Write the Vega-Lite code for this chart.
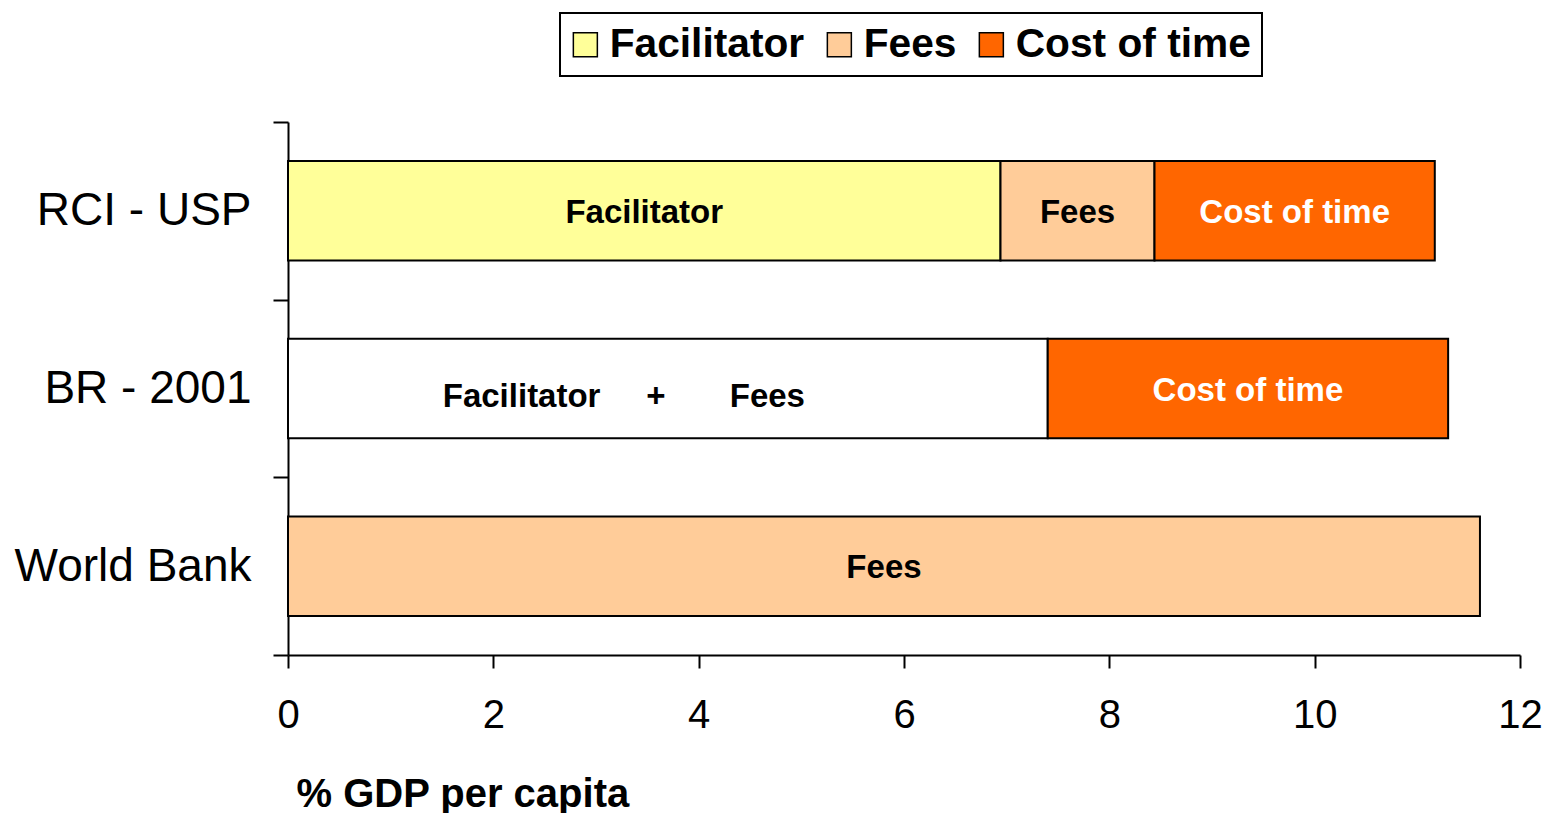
{
  "$schema": "https://vega.github.io/schema/vega-lite/v6.json",
  "width": 1232,
  "height": 533,
  "autosize": {"type": "none"},
  "padding": {"left": 288, "top": 122, "right": 27, "bottom": 158},
  "background": "white",
  "config": {"view": {"stroke": null}, "font": "Liberation Sans", "legend": {"strokeWidth": 2}},
  "data": {
    "values": [
      {"source": "RCI - USP", "segment": "Facilitator", "value": 6.94, "seq": 1},
      {"source": "RCI - USP", "segment": "Fees", "value": 1.5, "seq": 2},
      {"source": "RCI - USP", "segment": "Cost of time", "value": 2.73, "seq": 3},
      {"source": "BR - 2001", "segment": "Facilitator + Fees", "value": 7.4, "seq": 1},
      {"source": "BR - 2001", "segment": "Cost of time", "value": 3.9, "seq": 3},
      {"source": "World Bank", "segment": "Fees", "value": 11.61, "seq": 2}
    ]
  },
  "encoding": {
    "y": {
      "field": "source",
      "type": "nominal",
      "sort": ["RCI - USP", "BR - 2001", "World Bank"],
      "scale": {"paddingInner": 0, "paddingOuter": 0},
      "axis": {
        "title": null,
        "tickBand": "extent",
        "labelFontSize": 46,
        "labelColor": "black",
        "labelPadding": 22,
        "labelLimit": 0,
        "tickSize": 15,
        "tickWidth": 2,
        "tickColor": "black",
        "domainColor": "black",
        "domainWidth": 2,
        "grid": false
      }
    },
    "x": {
      "field": "value",
      "type": "quantitative",
      "stack": "zero",
      "scale": {"domain": [0, 12], "nice": false},
      "axis": {
        "title": "% GDP per capita",
        "titleFontSize": 40,
        "titleFontWeight": "bold",
        "titleColor": "black",
        "titleAnchor": "start",
        "titleAlign": "left",
        "titleX": 8,
        "titleY": 151,
        "titleBaseline": "alphabetic",
        "values": [0, 2, 4, 6, 8, 10, 12],
        "labelFontSize": 40,
        "labelColor": "black",
        "labelPadding": 27,
        "labelFlush": false,
        "labelOverlap": false,
        "tickSize": 13,
        "tickWidth": 2,
        "tickColor": "black",
        "domainColor": "black",
        "domainWidth": 2,
        "grid": false
      }
    },
    "order": {"field": "seq", "type": "quantitative"},
    "detail": {"field": "segment", "type": "nominal"}
  },
  "layer": [
    {
      "mark": {"type": "bar", "height": {"band": 0.56}, "stroke": "black", "strokeWidth": 2},
      "encoding": {
        "color": {
          "field": "segment",
          "type": "nominal",
          "scale": {
            "domain": ["Facilitator", "Fees", "Cost of time", "Facilitator + Fees"],
            "range": ["#FFFF99", "#FFCC99", "#FF6600", "#FFFFFF"]
          },
          "legend": {
            "values": ["Facilitator", "Fees", "Cost of time"],
            "orient": "none",
            "legendX": 272,
            "legendY": -109,
            "direction": "horizontal",
            "title": null,
            "strokeColor": "black",
            "fillColor": "white",
            "padding": 11,
            "symbolType": "square",
            "symbolSize": 576,
            "symbolOffset": -6,
            "symbolStrokeColor": "black",
            "symbolStrokeWidth": 1.5,
            "symbolOpacity": 1,
            "labelFontSize": 40.7,
            "labelFontWeight": "bold",
            "labelColor": "black",
            "labelOffset": 4,
            "labelLimit": 0,
            "columnPadding": 19
          }
        }
      }
    },
    {
      "mark": {"type": "text", "fontSize": 33, "fontWeight": "bold", "align": "center", "baseline": "middle", "dy": 2},
      "encoding": {
        "x": {"field": "value", "type": "quantitative", "stack": "zero", "bandPosition": 0.5},
        "text": {
          "condition": {"test": "datum.segment === 'Facilitator + Fees'", "value": ""},
          "field": "segment",
          "type": "nominal"
        },
        "color": {
          "condition": {"test": "datum.segment === 'Cost of time'", "value": "white"},
          "value": "black"
        }
      }
    },
    {
      "mark": {"type": "text", "fontSize": 33, "fontWeight": "bold", "align": "center", "baseline": "middle", "dx": -44, "dy": 8, "color": "black"},
      "encoding": {
        "x": {"field": "value", "type": "quantitative", "stack": "zero", "bandPosition": 0.5},
        "text": {
          "condition": {"test": "datum.segment === 'Facilitator + Fees'", "value": "Facilitator\u00a0\u00a0\u00a0\u00a0\u00a0+\u00a0\u00a0\u00a0\u00a0\u00a0\u00a0\u00a0Fees"},
          "value": ""
        }
      }
    }
  ]
}
